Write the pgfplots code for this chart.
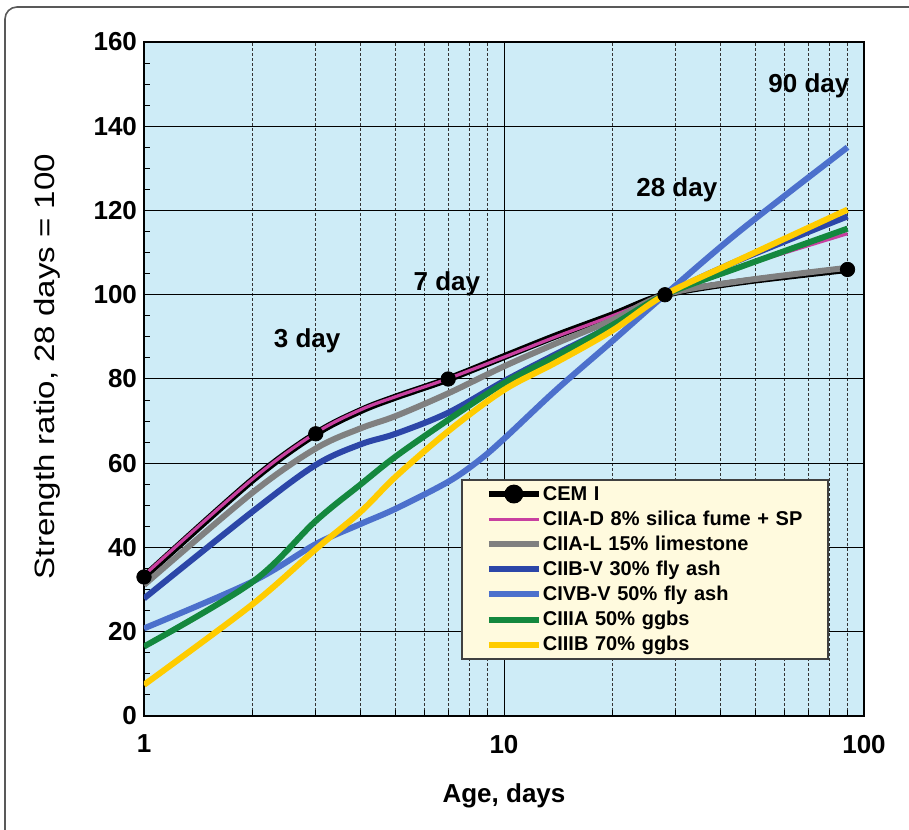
\documentclass[border=0pt]{standalone}
\usepackage{fontspec}
\setmainfont{Liberation Sans}
\newfontfamily\ylabfont[FakeStretch=1.18]{Liberation Sans}
\usepackage{pgfplots}
\pgfplotsset{compat=1.18}
\definecolor{bgblue}{RGB}{206,236,247}
\definecolor{legfill}{RGB}{255,250,222}
\definecolor{cpink}{RGB}{200,64,160}
\definecolor{cgray}{RGB}{128,128,128}
\definecolor{cdblue}{RGB}{44,70,168}
\definecolor{clblue}{RGB}{76,112,204}
\definecolor{cgreen}{RGB}{20,136,62}
\definecolor{cyellow}{RGB}{255,204,0}
\begin{document}
\begin{tikzpicture}
\begin{axis}[
  xmode=log, log basis x=10,
  xmin=1, xmax=100, ymin=0, ymax=160,
  scale only axis, width=360pt, height=337pt,
  axis background/.style={fill=bgblue},
  xtick={1,10,100}, xticklabels={1,10,100},
  minor xtick={2,3,4,5,6,7,8,9,20,30,40,50,60,70,80,90},
  ytick={0,20,...,160},
  minor ytick={5,10,15,25,30,35,45,50,55,65,70,75,85,90,95,105,110,115,125,130,135,145,150,155},
  xmajorgrids, xminorgrids, ymajorgrids,
  major grid style={black, line width=0.5pt},
  minor grid style={black!80, line width=0.35pt, dash pattern=on 1.5pt off 1pt},
  axis line style={line width=1pt},
  tick align=inside, tick pos=left,
  major tick length=4pt, minor tick length=3pt,
  tick style={black, line width=0.5pt},
  /pgf/number format/assume math mode=true,
  ticklabel style={font=\fontsize{13}{15}\selectfont\bfseries},
  xticklabel style={yshift=-6pt},
  xlabel={Age, days},
  xlabel style={font=\fontsize{13}{15}\selectfont\bfseries, at={(axis description cs:0.5,0)}, anchor=center, yshift=-40pt},
  ylabel={Strength ratio, 28 days = 100},
  ylabel style={font=\ylabfont\fontsize{14}{16}\selectfont, at={(axis description cs:-0.1347,0.5185)}, anchor=center},
  legend image code/.code={\draw[mark repeat=2,mark phase=2,#1] plot coordinates {(0pt,0pt)(12.5pt,0pt)(25pt,0pt)};},
  legend cell align=left,
  legend style={at={(rel axis cs:0.4404,0.3515)}, anchor=north west,
    fill=legfill, draw=black!75, line width=0.8pt,
    inner xsep=12pt, inner ysep=0.8pt,
    font=\fontsize{10}{12}\selectfont\bfseries,
    nodes={inner xsep=0.5pt, inner ysep=0pt, text height=9.3pt, text depth=3.25pt, text width=130pt},
    row sep=0pt, column sep=0pt},
  every axis plot/.append style={smooth, tension=0.55},
]
\addlegendimage{black, line width=3pt, mark=*, mark size=3.2pt, mark options={solid}, sharp plot}
\addlegendentry{CEM I}
% CEM I line
\addplot[black, line width=3.5pt, forget plot] coordinates {
(1,33)(2,56)(3,67)(4,72.5)(5,75.7)(7,80)(10,85.3)(14,90.3)(20,95.2)(28,100)(45,103)(90,106)};
\addplot[only marks, mark=*, mark size=3.6pt, black, forget plot] coordinates {
(1,33)(3,67)(7,80)(28,100)(90,106)};
\addplot[cpink, line width=1.6pt] coordinates {
(1,33.4)(2,56.2)(3,67.2)(4,72.7)(5,75.8)(7,80.1)(10,85.2)(14,90.1)(20,95)(28,100)(45,106.5)(90,114.5)};
\addlegendentry{CIIA-D 8\% silica fume + SP}
\addplot[cgray, line width=3pt] coordinates {
(1,31.1)(2,53)(3,63.5)(4,68.3)(5,71.2)(7,76.6)(10,83)(14,88.5)(20,94)(28,100)(45,103.2)(90,106.4)};
\addlegendentry{CIIA-L 15\% limestone}
\addplot[cdblue, line width=3pt] coordinates {
(1,27.9)(2,48.5)(3,59.6)(4,64.5)(5,67)(7,72)(10,79.5)(14,86)(20,92.7)(28,100)(45,108.2)(90,118.6)};
\addlegendentry{CIIB-V 30\% fly ash}
\addplot[clblue, line width=3pt] coordinates {
(1,20.8)(2,31.9)(3,40.8)(4,45.6)(5,49.2)(7,55.6)(8.5,60.6)(10,65.8)(14,77.5)(20,89)(28,100)(45,115)(90,135)};
\addlegendentry{CIVB-V 50\% fly ash}
\addplot[cgreen, line width=3pt] coordinates {
(1,16.5)(2,31.8)(3,46.3)(4,55)(5,61.6)(7,70.3)(10,79)(14,85.5)(20,92.8)(28,100)(45,106.5)(90,115.7)};
\addlegendentry{CIIIA 50\% ggbs}
\addplot[cyellow, line width=3pt] coordinates {
(1,7.4)(2,26.5)(3,39.6)(4,48.5)(5,56.8)(7,67.6)(10,77.4)(14,84)(20,91.5)(28,100)(45,108.3)(90,120.2)};
\addlegendentry{CIIIB 70\% ggbs}
\node[font=\fontsize{13}{15}\selectfont\bfseries] at (axis cs:2.84,89) {3 day};
\node[font=\fontsize{13}{15}\selectfont\bfseries] at (axis cs:6.94,102.6) {7 day};
\node[font=\fontsize{13}{15}\selectfont\bfseries] at (axis cs:30.2,124.9) {28 day};
\node[font=\fontsize{13}{15}\selectfont\bfseries] at (axis cs:70.3,149.6) {90 day};
\end{axis}
\draw[rounded corners=6pt, draw=black!65, line width=0.8pt] (-69.5pt,-75pt) rectangle (400pt,354.5pt);
\pgfresetboundingbox
\useasboundingbox (-72pt,-56.5pt) rectangle (382.5pt,358pt);
\end{tikzpicture}
\end{document}
